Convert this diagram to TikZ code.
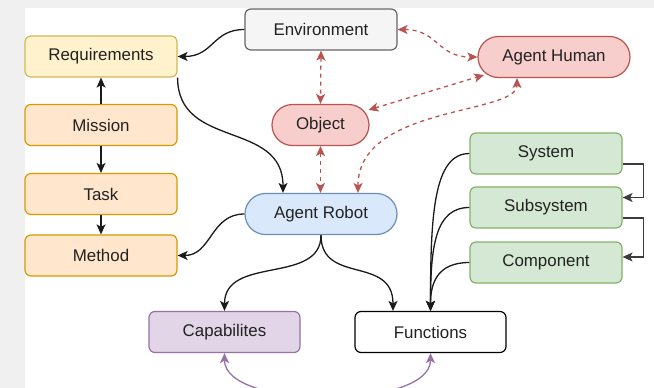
\documentclass[tikz,border=0pt]{standalone}
\usepackage{fontspec}
\setmainfont{Liberation Sans}
\usetikzlibrary{arrows.meta,calc}

\definecolor{pagegray}{HTML}{F0F0F0}
\definecolor{txt}{HTML}{222222}
\definecolor{envF}{HTML}{F5F5F5}\definecolor{envD}{HTML}{666666}
\definecolor{reqF}{HTML}{FFF2CC}\definecolor{reqD}{HTML}{D6B656}
\definecolor{orgF}{HTML}{FFE6CC}\definecolor{orgD}{HTML}{D79B00}
\definecolor{redF}{HTML}{F8CECC}\definecolor{redD}{HTML}{B85450}
\definecolor{bluF}{HTML}{DAE8FC}\definecolor{bluD}{HTML}{6C8EBF}
\definecolor{grnF}{HTML}{D5E8D4}\definecolor{grnD}{HTML}{82B366}
\definecolor{purF}{HTML}{E1D5E7}\definecolor{purD}{HTML}{9673A6}
\definecolor{lineK}{HTML}{1A1A1A}

\tikzset{
  box/.style={draw, line width=1.2pt, rounded corners=6pt, minimum width=152pt,
    minimum height=41pt, inner sep=0pt, text=txt},
  pill/.style={box, rounded corners=20.5pt},
  tipk/.tip={Stealth[length=10pt,width=9pt,inset=2.5pt]},
  link/.style={draw=lineK, line width=1.3pt, -tipk},
  ortho/.style={draw=lineK!85, line width=1.3pt, -tipk},
  rlink/.style={draw=redD, line width=1.3pt, dash pattern=on 4pt off 4pt, tipk-tipk},
  plink/.style={draw=purD, line width=1.3pt, tipk-tipk},
}

\begin{document}
\begin{tikzpicture}[x=1pt, y=-1pt, font=\fontsize{16.9}{20}\selectfont]
\useasboundingbox (0,0) rectangle (654,388);
\fill[pagegray] (0,0) rectangle (654,388);
\fill[white] (25,8) rectangle (654,388);
\clip (0,0) rectangle (654,388);

% nodes
\node[box, fill=envF, draw=envD] (env) at (321,29.5) {Environment};
\node[box, fill=reqF, draw=reqD] (req) at (101,56.5) {Requirements};
\node[box, fill=orgF, draw=orgD] (mis) at (101,125) {Mission};
\node[box, fill=orgF, draw=orgD] (task) at (101,194) {Task};
\node[box, fill=orgF, draw=orgD] (meth) at (101,255.5) {Method};
\node[pill, fill=redF, draw=redD] (ah) at (554,57) {Agent Human};
\node[pill, fill=redF, draw=redD, minimum width=97pt] (obj) at (320.5,125) {Object};
\node[pill, fill=bluF, draw=bluD] (rob) at (321,214) {Agent Robot};
\node[box, fill=grnF, draw=grnD] (sys) at (546,153.5) {System};
\node[box, fill=grnF, draw=grnD] (sub) at (546,207.5) {Subsystem};
\node[box, fill=grnF, draw=grnD] (com) at (546,262.5) {Component};
\node[box, fill=purF, draw=purD, minimum width=151pt] (cap) at (224.5,332) {Capabilites};
\node[box, fill=white, draw=black, minimum width=151pt] (fun) at (430.5,332) {Functions};

% black connectors
\draw[link] (env.west) .. controls +(-32,0) and +(36,0) .. (req.east);
\draw[link] (req.south east) .. controls +(0,72) and +(0,-73) .. ([xshift=-38pt]rob.north);
\draw[link] (mis.north) -- (req.south);
\draw[link] (mis.south) -- (task.north);
\draw[link] (task.south) -- (meth.north);
\draw[link] (rob.west) .. controls +(-34,0) and +(34,0) .. (meth.east);
\draw[link] (rob.south) .. controls +(0,50) and +(0,-56) .. (cap.north);
\draw[link] (rob.south) .. controls +(0,50) and +(0,-56) .. ([xshift=-37.5pt]fun.north);
\draw[link] (sys.west) .. controls +(-36,0) and +(0,-95) .. (fun.north);
\draw[link] (sub.west) .. controls +(-34,0) and +(0,-65) .. (fun.north);
\draw[link] (com.west) .. controls +(-32,0) and +(0,-28) .. (fun.north);
\draw[ortho] ([yshift=-10.5pt]sys.east) -- ++(21,0) |- ([yshift=10pt]sub.east);
\draw[ortho] ([yshift=-10.5pt]sub.east) -- ++(21,0) |- ([yshift=5.5pt]com.east);

% red dashed associations
\draw[rlink] (env.south) -- (obj.north);
\draw[rlink] (obj.south) -- (obj.south |- rob.north);
\draw[rlink] (env.east) .. controls +(40,0) and +(-40,0) .. (ah.west);
\draw[rlink] ($(obj.center)+(48,-15)$) -- ($(ah.center)+(-70,18)$);
\draw[rlink] ([xshift=37pt]rob.north) .. controls +(0,-88) and +(0,37) .. ([xshift=-37pt]ah.south);

% purple link between capabilities and functions
\draw[plink] (cap.south) .. controls +(0,57) and +(0,57) .. (fun.south);
\end{tikzpicture}
\end{document}
